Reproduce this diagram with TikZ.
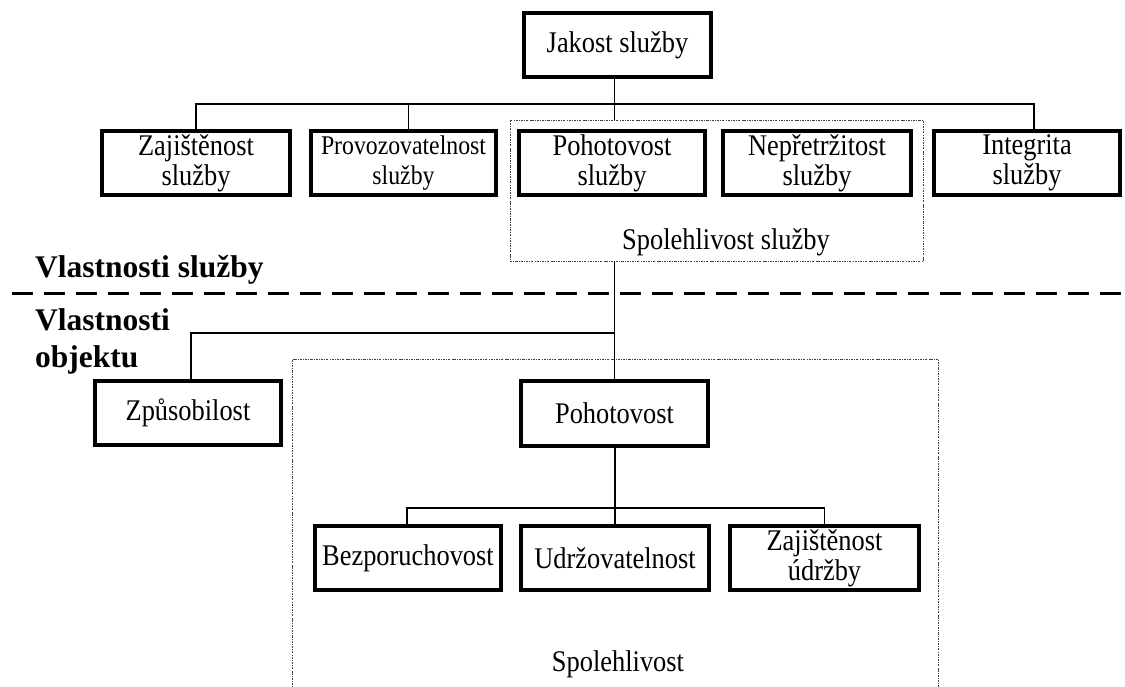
\documentclass[tikz,border=0pt]{standalone}
\usepackage{fontspec}
\setmainfont{Liberation Serif}[FakeStretch=0.88]
\newfontfamily\headfont{Liberation Serif}
\begin{document}
\begin{tikzpicture}[x=1pt,y=-1pt,
  box/.style={draw, line width=4pt, minimum width=187pt, minimum height=64pt, inner sep=0pt, align=center, font=\fontsize{30}{30}\selectfont},
  conn/.style={line width=1.6pt},
  dotbox/.style={draw=black!75, line width=0.9pt, dash pattern=on 2.2pt off 1.2pt on 0.7pt off 1.2pt, inner sep=0pt},
  lab/.style={inner sep=0pt, font=\fontsize{30}{30}\selectfont},
  head/.style={inner sep=0pt, font=\headfont\fontsize{31.5}{37}\selectfont\bfseries},
  divider/.style={line width=3pt, dash pattern=on 21pt off 11pt}]
\useasboundingbox (0,0) rectangle (1125,686);

% dotted grouping boxes
\node[dotbox, minimum width=413pt, minimum height=141pt] (spsl) at (716.5,190.5) {};
\node[dotbox, minimum width=646pt, minimum height=345pt] (bigbox) at (615,531.5) {};

% top level
\node[box, minimum width=187pt] (jakost) at (617.5,45) {Jakost služby};

% service properties
\node[box, minimum width=188pt] (zaj) at (196,163) {Zajištěnost\\služby};
\node[box, minimum width=185pt, font=\fontsize{27}{30}\selectfont] (prov) at (403.5,163) {Provozovatelnost\\služby};
\node[box, minimum width=186pt] (pohsl) at (612,163) {Pohotovost\\služby};
\node[box, minimum width=188pt] (nepr) at (817,163) {Nepřetržitost\\služby};
\node[box, minimum width=186pt] (integ) at (1027,163) {Integrita\\služby};
\node[lab, anchor=base] (spsllab) at (726,249) {Spolehlivost služby};

% divider and headings
\node[head, anchor=base west] (vs) at (35,277) {Vlastnosti služby};
\coordinate (dl) at (12,293);
\coordinate (dr) at (1125,293);
\draw[divider] (dl) -- (dr);
\node[head, anchor=base west] (vo1) at (35,330) {Vlastnosti};
\node[head, anchor=base west] (vo2) at (35,367) {objektu};

% object properties
\node[box, minimum width=186pt] (zpus) at (188,413) {Způsobilost};
\node[box, minimum width=187pt, minimum height=65pt] (pohot) at (614.5,413.5) {Pohotovost};
\node[box, minimum width=186pt] (bezp) at (408,558) {Bezporuchovost};
\node[box, minimum width=188pt] (udrz) at (615,558) {Udržovatelnost};
\node[box, minimum width=189pt] (zajud) at (824.5,558) {Zajištěnost\\údržby};
\node[lab, anchor=base] (spollab) at (618,671) {Spolehlivost};

% connectors
\coordinate (h1) at (0,104);
\coordinate (h2) at (0,333);
\coordinate (h3) at (0,508);
\draw[conn] (zaj.north) -- (zaj.north |- h1) -- ([xshift=7pt]integ.north |- h1) -- ([xshift=7pt]integ.north);
\draw[conn] ([xshift=5pt]prov.north) -- ([xshift=5pt]prov.north |- h1);
\draw[conn] ([xshift=-3pt]jakost.south) -- ([xshift=-3pt]jakost.south |- spsl.north);
\draw[conn] (spsl.south -| pohot.north) -- (pohot.north);
\draw[conn] ([xshift=3pt]zpus.north) -- ([xshift=3pt]zpus.north |- h2) -- (pohot.north |- h2);
\draw[conn] (udrz.north |- pohot.south) -- (udrz.north);
\draw[conn] ([xshift=-1pt]bezp.north) -- ([xshift=-1pt]bezp.north |- h3) -- (zajud.north |- h3) -- (zajud.north);
\end{tikzpicture}
\end{document}
